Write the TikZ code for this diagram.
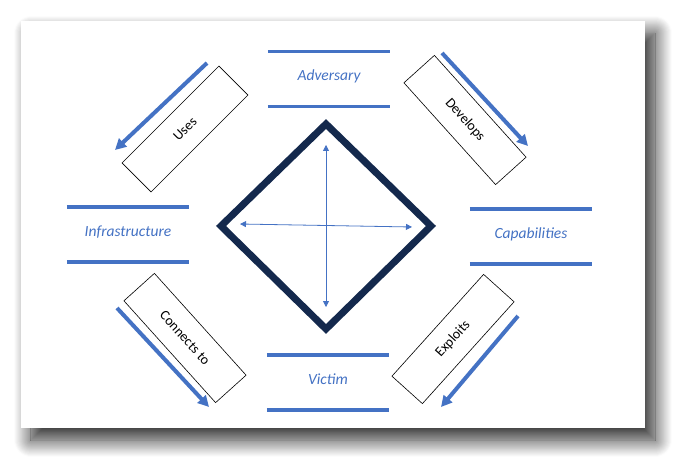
\documentclass[tikz,border=0pt]{standalone}
\usepackage{fontspec}
\setmainfont{Carlito}
\usetikzlibrary{arrows.meta, shadows.blur}
\definecolor{dmblue}{HTML}{4472C4}
\definecolor{dmnavy}{HTML}{14294D}

\begin{document}
\begin{tikzpicture}[x=1pt, y=-1pt, >={Triangle[length=11pt, width=11pt]},
  feat/.style={minimum width=122pt, minimum height=55pt, inner sep=0pt,
    text height=11pt, text depth=7pt, text=dmblue,
    font=\fontsize{15.5}{18}\selectfont\itshape},
  bar/.style={dmblue, line width=3.5pt},
  relbox/.style={draw, line width=0.6pt, minimum width=137pt,
    minimum height=41pt, inner sep=0pt, font=\fontsize{14}{16}\selectfont},
  flow/.style={->, dmblue, line width=4pt},
  axis/.style={{Triangle[length=6pt, width=6pt]}-{Triangle[length=6pt, width=6pt]},
    dmblue, line width=0.8pt}]
  \useasboundingbox (0,0) rectangle (687,470);
  % tarjeta con sombra
  \fill[white, blur shadow={shadow xshift=10pt, shadow yshift=-12pt,
    shadow blur radius=17pt, shadow blur steps=18, shadow opacity=85}]
    (21,21) rectangle (645,428);
  % vertices del diamante
  \node[feat] (adv) at (329,79) {Adversary};
  \node[feat] (infra) at (128,234.5) {Infrastructure};
  \node[feat] (capab) at (531,236.5) {Capabilities};
  \node[feat] (victim) at (328,382.5) {Victim};
  \foreach \v in {adv, infra, capab, victim} {
    \draw[bar] (\v.north west) -- (\v.north east);
    \draw[bar] (\v.south west) -- (\v.south east);
  }
  % diamante central
  \coordinate (T) at (326,124);
  \coordinate (R) at (431,226);
  \coordinate (B) at (326,329);
  \coordinate (L) at (221,226);
  \draw[dmnavy, line width=7pt, line join=miter] (T)--(R)--(B)--(L)--cycle;
  \coordinate (axT) at (326,145);
  \coordinate (axB) at (326,307);
  \coordinate (axL) at (240,224);
  \coordinate (axR) at (412,227);
  \draw[axis] (axT)--(axB);
  \draw[axis] (axL)--(axR);
  % relaciones
  \node[relbox, rotate=45] (uses) at (185,129) {Uses};
  \node[relbox, rotate=-48] (dev) at (465,120) {Develops};
  \node[relbox, rotate=-48] (conn) at (185,338) {Connects to};
  \node[relbox, rotate=48] (expl) at (453,339) {Exploits};
  % flechas
  \coordinate (usesA) at (207,63);   \coordinate (usesB) at (115,150);
  \coordinate (devA) at (442,53);    \coordinate (devB) at (528,146);
  \coordinate (connA) at (117,308);  \coordinate (connB) at (209,407);
  \coordinate (explA) at (518,316);  \coordinate (explB) at (441,407);
  \draw[flow] (usesA)--(usesB);
  \draw[flow] (devA)--(devB);
  \draw[flow] (connA)--(connB);
  \draw[flow] (explA)--(explB);
\end{tikzpicture}
\end{document}
